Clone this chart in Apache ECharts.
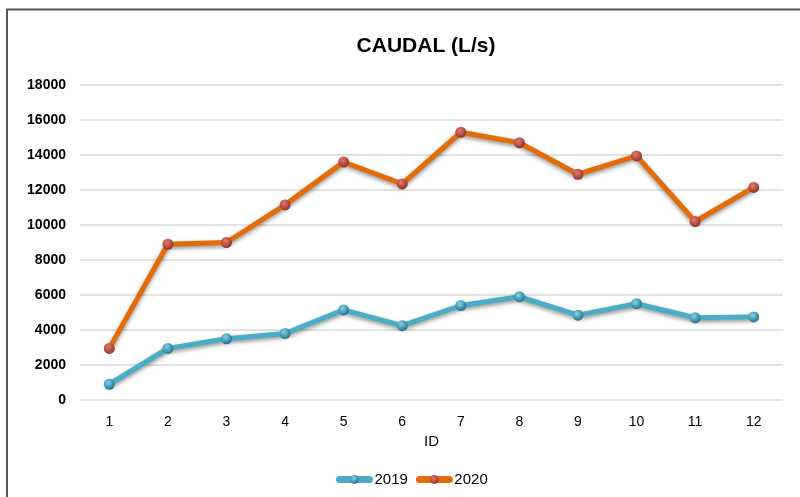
<!DOCTYPE html>
<html>
<head>
<meta charset="utf-8">
<script src="https://cdn.jsdelivr.net/npm/echarts@6/dist/echarts.min.js"></script>
<style>
  html, body { margin: 0; padding: 0; background: #fff; }
  #chart { width: 800px; height: 497px; }
</style>
</head>
<body>
<div id="chart"></div>
<script>
// --- DATA ---
const ids = ['1', '2', '3', '4', '5', '6', '7', '8', '9', '10', '11', '12'];
const caudal2019 = [900, 2950, 3500, 3800, 5150, 4250, 5400, 5900, 4850, 5500, 4700, 4750];
const caudal2020 = [2950, 8900, 9000, 11150, 13600, 12350, 15300, 14700, 12900, 13950, 10200, 12150];

const chart = echarts.init(document.getElementById('chart'));

// ball-like marker fill
const ball = (light, dark) => ({
    type: 'radial', x: 0.4, y: 0.35, r: 0.7,
    colorStops: [{ offset: 0, color: light }, { offset: 1, color: dark }]
});

const makeSeries = (name, data, lineColor, light, dark) => ({
    name, type: 'line', data,
    symbol: 'circle', symbolSize: 11,
    lineStyle: { color: lineColor, width: 5, shadowColor: 'rgba(0,0,0,0.45)', shadowBlur: 4, shadowOffsetY: 2 },
    itemStyle: { color: ball(light, dark), borderWidth: 0 },
    emphasis: { disabled: true }
});

const option = {
    animation: false,
    textStyle: { fontFamily: 'Liberation Sans, Arial, sans-serif' },
    title: {
        text: 'CAUDAL (L/s)', left: 421, top: 31, textAlign: 'center',
        textStyle: { fontSize: 21, fontWeight: 'bold', color: '#000' }
    },
    graphic: [{
        type: 'polyline', silent: true,
        shape: { points: [[7, 497], [7, 9.5], [800, 9.5]] },
        style: { stroke: '#555', lineWidth: 2, fill: null }
    }],
    legend: {
        bottom: 5, left: 331,
        itemWidth: 30, itemHeight: 11, itemGap: 8,
        lineStyle: { width: 7, cap: 'round' },
        textStyle: { fontSize: 15, color: '#000' },
        data: ['2019', '2020']
    },
    grid: { left: 80, right: 17, top: 85, bottom: 97 },
    xAxis: {
        type: 'category', data: ids,
        name: 'ID', nameLocation: 'middle', nameGap: 31,
        nameTextStyle: { fontSize: 15, color: '#000' },
        axisLine: { show: false }, axisTick: { show: false },
        axisLabel: { fontSize: 14, color: '#000', margin: 15 }
    },
    yAxis: {
        type: 'value', min: 0, max: 18000, interval: 2000,
        axisLine: { show: false }, axisTick: { show: false },
        axisLabel: { fontSize: 14, fontWeight: 'bold', color: '#000', margin: 14, formatter: v => String(v) },
        splitLine: { lineStyle: { color: '#d9d9d9', width: 1.5 } }
    },
    series: [
        makeSeries('2019', caudal2019, '#4BACC6', '#7fd3ea', '#1f6f86'),
        makeSeries('2020', caudal2020, '#E36C09', '#e27a6e', '#8e2e22')
    ]
};

chart.setOption(option);
</script>
</body>
</html>
